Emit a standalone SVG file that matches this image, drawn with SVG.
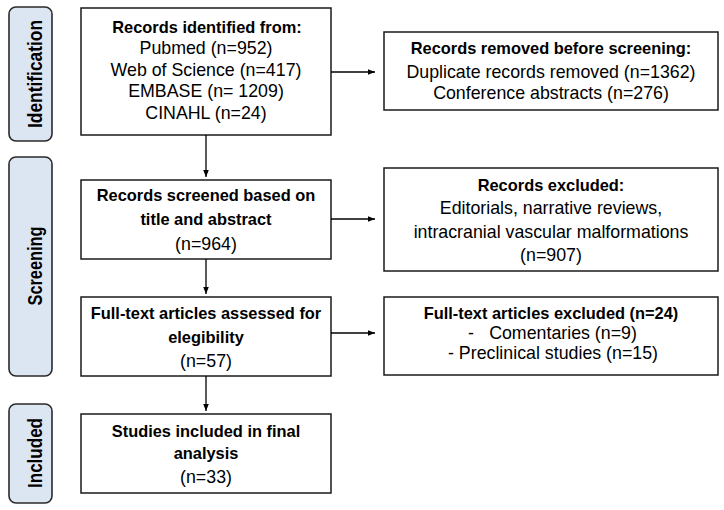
<svg xmlns="http://www.w3.org/2000/svg" width="724" height="510" viewBox="0 0 724 510">
<defs>
<marker id="ah" viewBox="0 0 10 10" refX="10" refY="5" markerWidth="7" markerHeight="7" orient="auto" markerUnits="userSpaceOnUse">
<path d="M0,1 L10,5 L0,9 Z" fill="#000"/>
</marker>
<style>
.box{fill:#fff;stroke:#1a1a1a;stroke-width:1.5}
.phase{fill:#dce6f2;stroke:#2a2a2a;stroke-width:1.6}
text{font-family:"Liberation Sans",Arial,sans-serif;font-size:17.8px;fill:#000;text-anchor:middle}
.b{font-weight:bold;font-size:16.4px}
.ph{font-weight:bold;font-size:20px}
.con{stroke:#000;stroke-width:1.3;fill:none;marker-end:url(#ah)}
</style>
</defs>
<rect width="724" height="510" fill="#fff"/>
<g id="phase-identification">
<rect class="phase" x="9" y="7" width="43" height="134" rx="7"/>
<text class="ph" transform="translate(42,74) rotate(-90)" textLength="108" lengthAdjust="spacingAndGlyphs">Identification</text>
</g>
<g id="phase-screening">
<rect class="phase" x="9" y="157" width="43" height="219" rx="7"/>
<text class="ph" transform="translate(42,266) rotate(-90)" textLength="79" lengthAdjust="spacingAndGlyphs">Screening</text>
</g>
<g id="phase-included">
<rect class="phase" x="9" y="404" width="43" height="99" rx="7"/>
<text class="ph" transform="translate(42,453) rotate(-90)" textLength="70" lengthAdjust="spacingAndGlyphs">Included</text>
</g>
<g id="records-identified">
<rect class="box" x="81" y="8" width="250" height="127"/>
<text class="b" x="207" y="33">Records identified from:</text>
<text x="206" y="54">Pubmed (n=952)</text>
<text x="206" y="76">Web of Science (n=417)</text>
<text x="206" y="97">EMBASE (n= 1209)</text>
<text x="206" y="119">CINAHL (n=24)</text>
</g>
<g id="records-removed">
<rect class="box" x="384" y="32" width="334" height="78"/>
<text class="b" x="551" y="54">Records removed before screening:</text>
<text x="551" y="78">Duplicate records removed (n=1362)</text>
<text x="551" y="99">Conference abstracts (n=276)</text>
</g>
<g id="records-screened">
<rect class="box" x="81" y="180" width="250" height="79"/>
<text class="b" x="206" y="201">Records screened based on</text>
<text class="b" x="206" y="225">title and abstract</text>
<text x="206" y="250">(n=964)</text>
</g>
<g id="records-excluded">
<rect class="box" x="384" y="168" width="334" height="103"/>
<text class="b" x="551" y="191">Records excluded:</text>
<text x="551" y="214">Editorials, narrative reviews,</text>
<text x="551" y="238">intracranial vascular malformations</text>
<text x="551" y="261">(n=907)</text>
</g>
<g id="fulltext-assessed">
<rect class="box" x="81" y="297" width="250" height="79"/>
<text class="b" x="206" y="319">Full-text articles assessed for</text>
<text class="b" x="206" y="343">elegibility</text>
<text x="206" y="367">(n=57)</text>
</g>
<g id="fulltext-excluded">
<rect class="box" x="384" y="297" width="334" height="78"/>
<text class="b" x="551" y="319">Full-text articles excluded (n=24)</text>
<text x="471" y="339">-</text>
<text x="563" y="339">Comentaries (n=9)</text>
<text x="553" y="359">- Preclinical studies (n=15)</text>
</g>
<g id="studies-included">
<rect class="box" x="81" y="414" width="250" height="79"/>
<text class="b" x="206" y="437">Studies included in final</text>
<text class="b" x="206" y="459">analysis</text>
<text x="206" y="483">(n=33)</text>
</g>
<g id="connectors">
<path class="con" d="M331,72 H375"/>
<path class="con" d="M206,135 V177"/>
<path class="con" d="M331,219 H375"/>
<path class="con" d="M206,259 V294"/>
<path class="con" d="M331,333 H375"/>
<path class="con" d="M206,376 V411"/>
</g>
</svg>
